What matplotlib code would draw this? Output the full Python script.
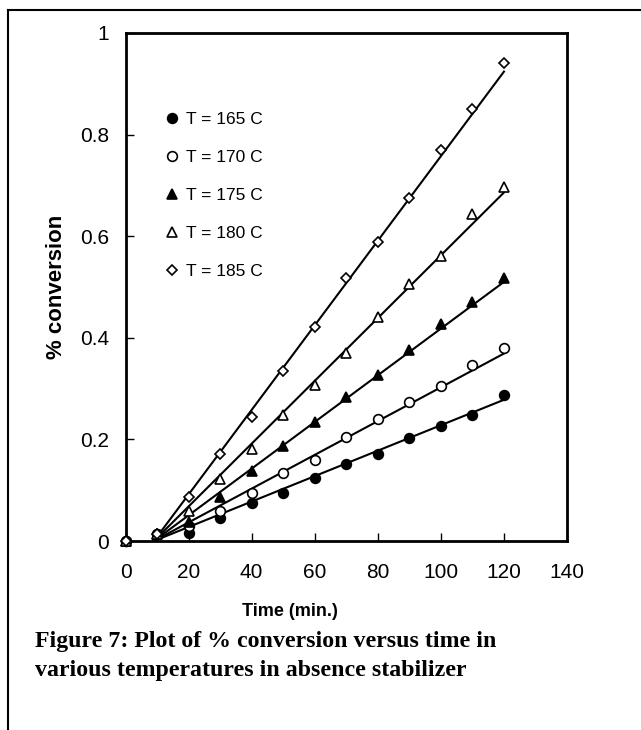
import matplotlib
matplotlib.use('Agg')
import matplotlib.pyplot as plt
from matplotlib.lines import Line2D
import numpy as np

plt.rcParams['font.family'] = ['Liberation Sans', 'DejaVu Sans']

# time (min.)
t = [0, 10, 20, 30, 40, 50, 60, 70, 80, 90, 100, 110, 120]

labels = ['T = 165 C', 'T = 170 C', 'T = 175 C', 'T = 180 C', 'T = 185 C']
conv_165 = [0, 0.013, 0.016, 0.045, 0.074, 0.094, 0.125, 0.151, 0.171, 0.203, 0.226, 0.249, 0.287]
conv_170 = [0, 0.013, 0.030, 0.060, 0.094, 0.133, 0.160, 0.205, 0.241, 0.273, 0.306, 0.347, 0.379]
conv_175 = [0, 0.013, 0.038, 0.087, 0.138, 0.187, 0.235, 0.284, 0.327, 0.376, 0.427, 0.471, 0.517]
conv_180 = [0, 0.013, 0.059, 0.122, 0.182, 0.249, 0.307, 0.371, 0.440, 0.505, 0.561, 0.643, 0.696]
conv_185 = [0, 0.013, 0.087, 0.171, 0.245, 0.335, 0.421, 0.517, 0.589, 0.676, 0.770, 0.850, 0.940]

# linear trend lines (start, end)
trend_t = [9, 120]
trend_165 = [0, 0.278]
trend_170 = [0, 0.369]
trend_175 = [0, 0.510]
trend_180 = [0, 0.686]
trend_185 = [0, 0.924]

series = [conv_165, conv_170, conv_175, conv_180, conv_185]
trends = [trend_165, trend_170, trend_175, trend_180, trend_185]
markers = ['o', 'o', '^', '^', 'D']
faces = ['black', 'white', 'black', 'white', 'white']
sizes = [7, 7, 7, 7, 5.5]

fig = plt.figure(figsize=(6.41, 7.3), dpi=100)
ax = fig.add_axes([0.1958, 0.2589, 0.6888, 0.6959])

for y, tr in zip(series, trends):
    ax.plot(trend_t, tr, color='black', lw=1.5, zorder=2)

handles = []
for y, m, fc, s, lab in zip(series, markers, faces, sizes, labels):
    h, = ax.plot(t, y, ls='none', marker=m, ms=s, mfc=fc, mec='black',
                 mew=1.2, label=lab, zorder=3, clip_on=False)
    handles.append(h)

ax.set_xlim(0, 140)
ax.set_ylim(0, 1)
ax.set_xticks(np.arange(0, 141, 20))
ax.set_yticks([0, 0.2, 0.4, 0.6, 0.8, 1])
ax.set_yticklabels(['0', '0.2', '0.4', '0.6', '0.8', '1'])
ax.tick_params(direction='in', length=6, width=1, labelsize=15)
ax.tick_params(axis='x', pad=16)
ax.tick_params(axis='y', pad=12)
for sp in ax.spines.values():
    sp.set_linewidth(2)

ax.set_ylabel('% conversion', fontsize=16, fontweight='bold', labelpad=9)
fig.text(290 / 641, 1 - 612 / 730, 'Time (min.)', fontsize=13,
         fontweight='bold', ha='center', va='center')

leg = ax.legend(handles=handles, loc='upper left', bbox_to_anchor=(0.075, 0.858),
                frameon=False, fontsize=12.5, handlelength=0.7,
                handletextpad=0.45, labelspacing=1.31, borderaxespad=0)

cap = ("Figure 7: Plot of % conversion versus time in\n"
       "various temperatures in absence stabilizer")
fig.text(35 / 641, 1 - 631 / 730, cap, fontsize=17.2, fontweight='bold',
         family=['Liberation Serif', 'DejaVu Serif'], ha='left', va='top',
         linespacing=1.5)

# outer frame (left and top edges)
fig.add_artist(Line2D([8 / 641, 8 / 641], [0, 1 - 10 / 730], transform=fig.transFigure,
                      color='black', lw=1.5))
fig.add_artist(Line2D([8 / 641, 1], [1 - 10 / 730, 1 - 10 / 730], transform=fig.transFigure,
                      color='black', lw=1.5))

fig.savefig('out.png', dpi=100)
